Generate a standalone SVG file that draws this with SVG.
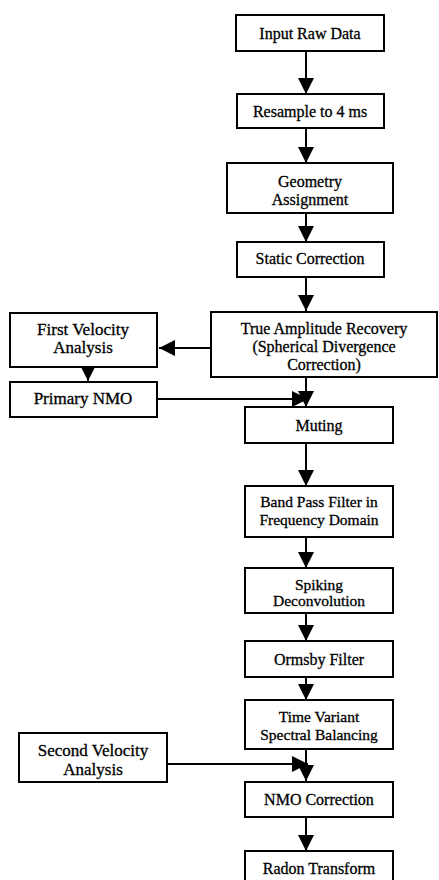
<svg xmlns="http://www.w3.org/2000/svg" width="439" height="880" viewBox="0 0 439 880">
  <style>
    .box { fill: #ffffff; stroke: #000000; stroke-width: 2; }
    .lbl { font-family: "Liberation Serif", "Times New Roman", serif; font-size: 16px; fill: #000000; stroke: #000000; stroke-width: 0.3; text-anchor: middle; }
    .sm { font-size: 15.5px; }
    .lg { font-size: 17px; }
    .wire { fill: none; stroke: #000000; stroke-width: 2; }
  </style>
  <defs>
    <marker id="head" markerUnits="userSpaceOnUse" markerWidth="16" markerHeight="16" viewBox="0 0 16 16" refX="16" refY="8" orient="auto">
      <path d="M0,0 L16,8 L0,16 Z" fill="#000000"/>
    </marker>
  </defs>
  <rect width="439" height="880" fill="#ffffff"/>

  <g id="connectors">
    <line class="wire" x1="306" y1="51" x2="306" y2="94" marker-end="url(#head)"/>
    <line class="wire" x1="306" y1="128" x2="306" y2="163" marker-end="url(#head)"/>
    <line class="wire" x1="306" y1="213" x2="306" y2="242" marker-end="url(#head)"/>
    <line class="wire" x1="306" y1="277" x2="306" y2="311" marker-end="url(#head)"/>
    <line class="wire" x1="211" y1="348" x2="159" y2="348" marker-end="url(#head)"/>
    <line class="wire" x1="88" y1="367" x2="88" y2="381" marker-end="url(#head)"/>
    <line class="wire" x1="306" y1="377" x2="306" y2="407" marker-end="url(#head)"/>
    <line class="wire" x1="157" y1="399" x2="308" y2="399" marker-end="url(#head)"/>
    <line class="wire" x1="306" y1="443" x2="306" y2="486" marker-end="url(#head)"/>
    <line class="wire" x1="306" y1="537" x2="306" y2="568" marker-end="url(#head)"/>
    <line class="wire" x1="306" y1="613" x2="306" y2="641" marker-end="url(#head)"/>
    <line class="wire" x1="306" y1="677" x2="306" y2="700" marker-end="url(#head)"/>
    <line class="wire" x1="306" y1="749" x2="306" y2="781" marker-end="url(#head)"/>
    <line class="wire" x1="167" y1="764" x2="308" y2="764" marker-end="url(#head)"/>
    <line class="wire" x1="306" y1="817" x2="306" y2="851" marker-end="url(#head)"/>
  </g>

  <g id="input-raw-data">
    <rect class="box" x="236" y="15" width="148" height="36"/>
    <text class="lbl" x="310" y="38.5">Input Raw Data</text>
  </g>
  <g id="resample">
    <rect class="box" x="237" y="94" width="147" height="34"/>
    <text class="lbl" x="310" y="116.5">Resample to 4 ms</text>
  </g>
  <g id="geometry-assignment">
    <rect class="box" x="227" y="163" width="166" height="50"/>
    <text class="lbl" x="310" y="186.5">Geometry</text>
    <text class="lbl" x="310" y="204.5">Assignment</text>
  </g>
  <g id="static-correction">
    <rect class="box" x="237" y="242" width="147" height="35"/>
    <text class="lbl" x="310" y="263.5">Static Correction</text>
  </g>
  <g id="true-amplitude-recovery">
    <rect class="box" x="211" y="312" width="226" height="65"/>
    <text class="lbl" x="324" y="334">True Amplitude Recovery</text>
    <text class="lbl" x="324" y="352">(Spherical Divergence</text>
    <text class="lbl" x="324" y="370">Correction)</text>
  </g>
  <g id="first-velocity-analysis">
    <rect class="box" x="10" y="313" width="147" height="54"/>
    <text class="lbl lg" x="83" y="335">First Velocity</text>
    <text class="lbl lg" x="83" y="353">Analysis</text>
  </g>
  <g id="primary-nmo">
    <rect class="box" x="10" y="382" width="147" height="35"/>
    <text class="lbl lg" x="83" y="403.5">Primary NMO</text>
  </g>
  <g id="muting">
    <rect class="box" x="245" y="407" width="148" height="36"/>
    <text class="lbl" x="319" y="430.5">Muting</text>
  </g>
  <g id="band-pass-filter">
    <rect class="box" x="245" y="486" width="148" height="51"/>
    <text class="lbl sm" x="319" y="507">Band Pass Filter in</text>
    <text class="lbl sm" x="319" y="524.5">Frequency Domain</text>
  </g>
  <g id="spiking-deconvolution">
    <rect class="box" x="245" y="568" width="148" height="45"/>
    <text class="lbl sm" x="319" y="590">Spiking</text>
    <text class="lbl sm" x="319" y="606">Deconvolution</text>
  </g>
  <g id="ormsby-filter">
    <rect class="box" x="245" y="641" width="148" height="36"/>
    <text class="lbl" x="319" y="665">Ormsby Filter</text>
  </g>
  <g id="time-variant-balancing">
    <rect class="box" x="245" y="700" width="148" height="49"/>
    <text class="lbl sm" x="319" y="721.5">Time Variant</text>
    <text class="lbl sm" x="319" y="740">Spectral Balancing</text>
  </g>
  <g id="second-velocity-analysis">
    <rect class="box" x="19" y="733" width="148" height="49"/>
    <text class="lbl lg" x="93" y="756">Second Velocity</text>
    <text class="lbl lg" x="93" y="774.5">Analysis</text>
  </g>
  <g id="nmo-correction">
    <rect class="box" x="245" y="782" width="148" height="35"/>
    <text class="lbl" x="319" y="805">NMO Correction</text>
  </g>
  <g id="radon-transform">
    <rect class="box" x="245" y="851" width="148" height="36"/>
    <text class="lbl" x="319" y="874">Radon Transform</text>
  </g>
</svg>
